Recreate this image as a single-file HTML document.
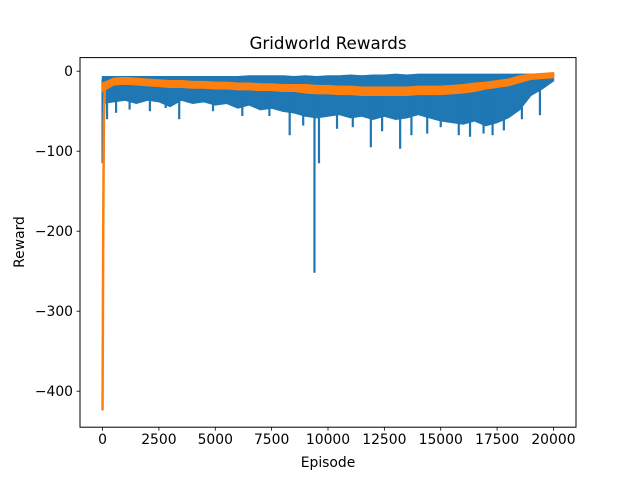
<!DOCTYPE html>
<html><head><meta charset="utf-8"><style>
body{margin:0;background:#fff}
svg text{font-family:"DejaVu Sans","Liberation Sans",sans-serif;fill:#000}
</style></head><body>
<svg id="chart" width="640" height="480" xmlns="http://www.w3.org/2000/svg">
<rect width="640" height="480" fill="#fff"/>
<text x="328" y="49" font-size="16.7" text-anchor="middle">Gridworld Rewards</text>
<g id="plot"></g>
<rect x="80" y="57.6" width="496" height="369.6" fill="none" stroke="#000" stroke-width="1"/>
<g id="axes"></g>
<text x="328" y="467" font-size="13.9" text-anchor="middle">Episode</text>
<text transform="translate(24,242) rotate(-90)" font-size="13.9" text-anchor="middle">Reward</text>
</svg>
<script>
const episodes = [0,500,1000,1500,2000,2500,3000,3500,4000,4500,5000,5500,6000,6500,7000,7500,8000,8500,9000,9500,10000,10500,11000,11500,12000,12500,13000,13500,14000,14500,15000,15500,16000,16500,17000,17500,18000,18500,19000,19500,20000];
const blueHigh = [-7,-7,-7,-7,-7,-7,-7,-7,-7,-7,-7,-7,-7,-6,-6,-6,-6,-7,-6,-7,-6,-6,-5,-6,-5,-5,-4,-5,-4,-4,-4,-4,-4,-4,-4,-4,-4,-4,-4,-4,-4];
const blueLow = [-40,-38,-36,-40,-36,-38,-44,-36,-40,-38,-42,-40,-46,-42,-48,-46,-50,-52,-56,-58,-56,-54,-58,-56,-60,-56,-60,-58,-54,-58,-62,-64,-66,-62,-68,-64,-58,-48,-30,-22,-12];
const orangeMid = [-20,-13,-12,-13,-14,-15,-16,-16,-17,-17,-18,-18,-19,-19,-20,-20,-21,-21,-22,-23,-23,-24,-24,-25,-25,-25,-25,-25,-24,-24,-24,-23,-22,-20,-18,-16,-14,-10,-7,-6,-5];
const orangeBand = [5,4,4,4,4,4,4,4,4,4,4,4,4,4,4,4,4,4,5,5,5,5,5,5,5,5,5,5,5,5,5,5,5,5,4,4,4,4,3,3,3];
const spikeX = [0,200,600,1200,2100,2800,3400,4900,6200,7400,8300,8900,9400,9600,10400,11100,11900,12400,13200,13700,14400,15000,15800,16300,16900,17300,17800,18600,19400];
const spikeY = [-115,-60,-52,-48,-50,-46,-60,-50,-56,-56,-80,-68,-252,-115,-72,-70,-95,-75,-97,-80,-78,-70,-80,-82,-78,-80,-74,-60,-55];
const orangeStartX = [0,30,60,100];
const orangeStartY = [-424,-200,-60,-20];
const xTicks = [0,2500,5000,7500,10000,12500,15000,17500,20000];
const yTicks = [0,-100,-200,-300,-400];

const NS="http://www.w3.org/2000/svg";
const L=80,R=576,T=57.6,B=427.2,xmin=-1000,xmax=21000,ymin=-445,ymax=17;
const X=v=>L+(v-xmin)/(xmax-xmin)*(R-L);
const Y=v=>B-(v-ymin)/(ymax-ymin)*(B-T);
const plot=document.getElementById('plot'),axes=document.getElementById('axes');
function mk(tag,attrs,parent){const e=document.createElementNS(NS,tag);for(const k in attrs)e.setAttribute(k,attrs[k]);parent.appendChild(e);return e;}

let pts=episodes.map((e,i)=>X(e)+','+Y(blueHigh[i]));
for(let i=episodes.length-1;i>=0;i--)pts.push(X(episodes[i])+','+Y(blueLow[i]));
const blue=mk('polygon',{points:pts.join(' '),fill:'#1f77b4',stroke:'#1f77b4','stroke-width':1.5},plot);


spikeX.forEach((sx,i)=>{
  const l=mk('line',{x1:X(sx),x2:X(sx),y1:Y(-10),y2:Y(spikeY[i]),stroke:'#1f77b4','stroke-width':2.2},plot);
  
  
});
let op=episodes.map((e,i)=>X(e)+','+Y(orangeMid[i]+orangeBand[i]));
for(let i=episodes.length-1;i>=0;i--)op.push(X(episodes[i])+','+Y(orangeMid[i]-orangeBand[i]));
const org=mk('polygon',{points:op.join(' '),fill:'#ff7f0e',stroke:'#ff7f0e','stroke-width':1.5},plot);


const os=mk('polyline',{points:orangeStartX.map((x,i)=>X(x)+','+Y(orangeStartY[i])).join(' '),fill:'none',stroke:'#ff7f0e','stroke-width':2.5},plot);



xTicks.forEach(t=>{
  const tk=mk('line',{x1:X(t),x2:X(t),y1:B,y2:B+3.5,stroke:'#000','stroke-width':0.8},axes);
  
  
  const tx=mk('text',{x:X(t),y:B+17,'font-size':13.9,'text-anchor':'middle'},axes);
  tx.textContent=String(t);
  
  
});
yTicks.forEach(t=>{
  const tk=mk('line',{x1:L-3.5,x2:L,y1:Y(t),y2:Y(t),stroke:'#000','stroke-width':0.8},axes);
  
  
  const tx=mk('text',{x:L-7,y:Y(t)+5,'font-size':13.9,'text-anchor':'end'},axes);
  tx.textContent=(t<0?'\u2212':'')+Math.abs(t);
  
  
});
</script>
</body></html>
